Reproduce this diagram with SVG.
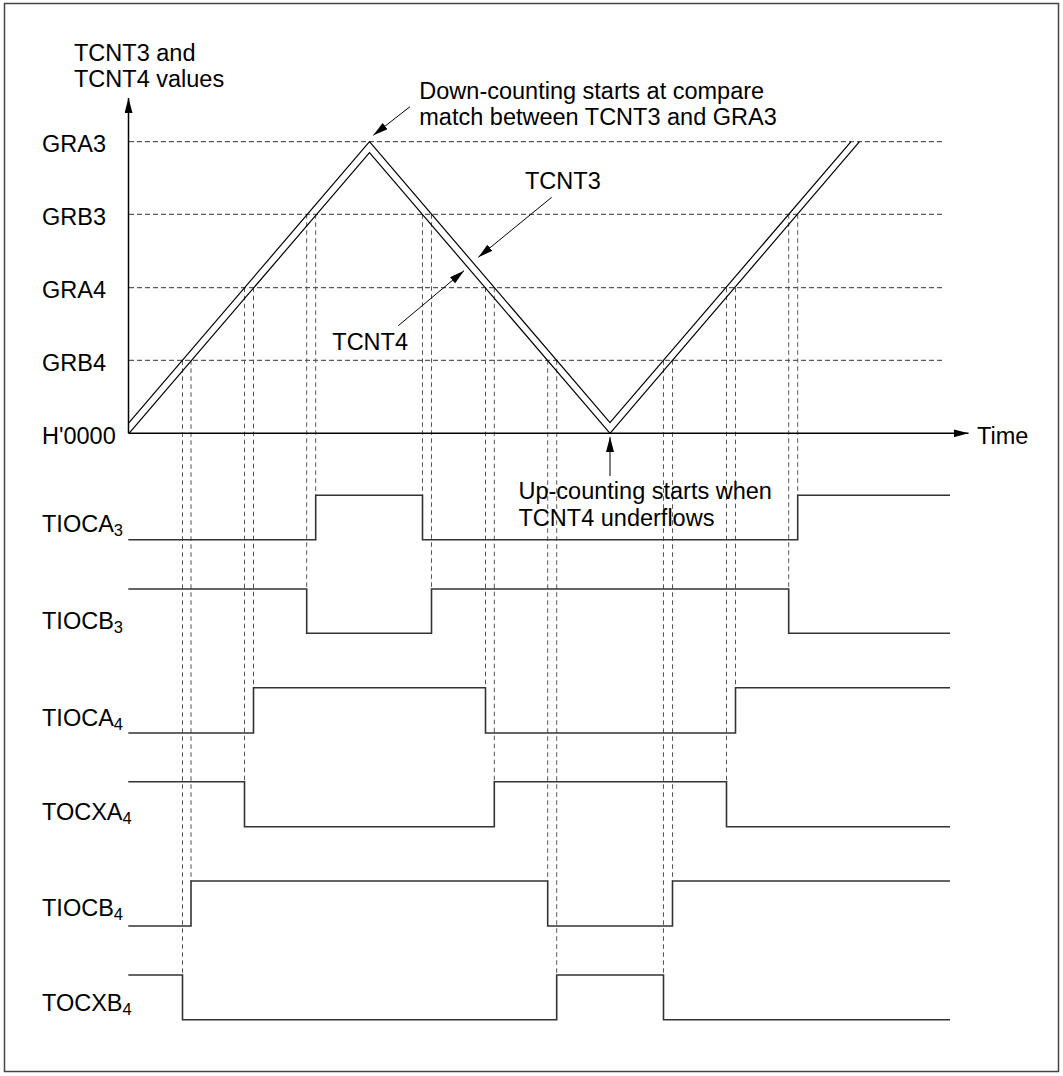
<svg xmlns="http://www.w3.org/2000/svg" width="1063" height="1076" viewBox="0 0 1063 1076">
<style>
text{font-family:"Liberation Sans",Arial,Helvetica,sans-serif;font-size:23.5px;fill:#000}
.sub{font-size:16.5px}
.grid{stroke:#333;stroke-width:1;stroke-dasharray:5,3;fill:none}
.vd{stroke:#555;stroke-width:1;stroke-dasharray:4.5,3.5;fill:none}
.axis{stroke:#000;stroke-width:1.5;fill:none}
.cnt{stroke:#000;stroke-width:1.2;fill:none;stroke-linejoin:miter}
.wave{stroke:#333;stroke-width:1.6;fill:none}
.arr{stroke:#000;stroke-width:1;fill:none}
</style>
<defs>
<marker id="ah" viewBox="0 0 15 8" refX="15" refY="4" markerWidth="15" markerHeight="8" orient="auto" markerUnits="userSpaceOnUse">
<path d="M0,0 L15,4 L0,8 z" fill="#000"/>
</marker>
</defs>
<rect x="4.5" y="3.5" width="1054" height="1068" fill="#fff" stroke="#444" stroke-width="1.5"/>

<g id="grid">
<line class="grid" x1="129" y1="141.7" x2="945" y2="141.7"/>
<line class="grid" x1="129" y1="214.3" x2="945" y2="214.3"/>
<line class="grid" x1="129" y1="287.7" x2="945" y2="287.7"/>
<line class="grid" x1="129" y1="360.3" x2="945" y2="360.3"/>
</g>

<g id="verticals">
<line class="vd" x1="182.5" y1="360.3" x2="182.5" y2="975"/>
<line class="vd" x1="191" y1="360.3" x2="191" y2="881"/>
<line class="vd" x1="244.5" y1="287.7" x2="244.5" y2="781.7"/>
<line class="vd" x1="253.5" y1="287.7" x2="253.5" y2="687.7"/>
<line class="vd" x1="306.7" y1="214.3" x2="306.7" y2="589"/>
<line class="vd" x1="315.7" y1="214.3" x2="315.7" y2="495.3"/>
<line class="vd" x1="422.5" y1="214.3" x2="422.5" y2="495.3"/>
<line class="vd" x1="431.5" y1="214.3" x2="431.5" y2="589"/>
<line class="vd" x1="485.5" y1="287.7" x2="485.5" y2="687.7"/>
<line class="vd" x1="494.3" y1="287.7" x2="494.3" y2="781.7"/>
<line class="vd" x1="547.7" y1="360.3" x2="547.7" y2="881"/>
<line class="vd" x1="556.7" y1="360.3" x2="556.7" y2="975"/>
<line class="vd" x1="663.5" y1="360.3" x2="663.5" y2="975"/>
<line class="vd" x1="672.5" y1="360.3" x2="672.5" y2="881"/>
<line class="vd" x1="726.5" y1="287.7" x2="726.5" y2="781.7"/>
<line class="vd" x1="735.5" y1="287.7" x2="735.5" y2="687.7"/>
<line class="vd" x1="788.7" y1="214.3" x2="788.7" y2="589"/>
<line class="vd" x1="797.7" y1="214.3" x2="797.7" y2="495.3"/>
</g>

<g id="axes">
<line class="axis" x1="128.5" y1="433.3" x2="128.5" y2="98" marker-end="url(#ah)"/>
<line class="axis" x1="128.5" y1="433.3" x2="968.5" y2="433.3" marker-end="url(#ah)"/>
<text x="74" y="61">TCNT3 and</text>
<text x="74" y="87">TCNT4 values</text>
<text x="42" y="152">GRA3</text>
<text x="42" y="225">GRB3</text>
<text x="42" y="298.3">GRA4</text>
<text x="42" y="371">GRB4</text>
<text x="42" y="444">H'0000</text>
<text x="977" y="443.5">Time</text>
</g>

<g id="tcnt3">
<polyline class="cnt" points="129,422.7 369.5,141.7 610,422.7 851,141.7"/>
</g>
<g id="tcnt4">
<polyline class="cnt" points="129,433.3 369.5,152.7 610,433.3 859.5,141.7"/>
</g>

<g id="annotations">
<text x="419.3" y="99.3">Down-counting starts at compare</text>
<text x="419.3" y="125.3">match between TCNT3 and GRA3</text>
<text x="525" y="189.3">TCNT3</text>
<text x="332.3" y="350">TCNT4</text>
<text x="518.5" y="499.3">Up-counting starts when</text>
<text x="518.5" y="526.3">TCNT4 underflows</text>
</g>

<g id="connectors">
<line class="arr" x1="410" y1="106.7" x2="373.3" y2="135.3" marker-end="url(#ah)"/>
<line class="arr" x1="551.7" y1="197.3" x2="478.3" y2="257.3" marker-end="url(#ah)"/>
<line class="arr" x1="398.3" y1="325.7" x2="464" y2="270.7" marker-end="url(#ah)"/>
<line class="arr" x1="610" y1="476" x2="610" y2="437" marker-end="url(#ah)"/>
</g>

<g id="tioca3">
<text x="42" y="531.7">TIOCA<tspan class="sub" dy="4">3</tspan></text>
<path class="wave" d="M128.3,539.7 H315.7 V495.3 H422.5 V539.7 H797.7 V495.3 H950"/>
</g>
<g id="tiocb3">
<text x="42" y="629.3">TIOCB<tspan class="sub" dy="4">3</tspan></text>
<path class="wave" d="M128.3,589 H306.7 V633.3 H431.5 V589 H788.7 V633.3 H950"/>
</g>
<g id="tioca4">
<text x="42" y="725.7">TIOCA<tspan class="sub" dy="4">4</tspan></text>
<path class="wave" d="M128.3,733 H253.5 V687.7 H485.5 V733 H735.5 V687.7 H950"/>
</g>
<g id="tocxa4">
<text x="42" y="820">TOCXA<tspan class="sub" dy="4">4</tspan></text>
<path class="wave" d="M128.3,781.7 H244.5 V826.7 H494.3 V781.7 H726.5 V826.7 H950"/>
</g>
<g id="tiocb4">
<text x="42" y="916">TIOCB<tspan class="sub" dy="4">4</tspan></text>
<path class="wave" d="M128.3,926 H191 V881 H547.7 V926 H672.5 V881 H950"/>
</g>
<g id="tocxb4">
<text x="42" y="1010.7">TOCXB<tspan class="sub" dy="4">4</tspan></text>
<path class="wave" d="M128.3,975 H182.5 V1019.7 H556.7 V975 H663.5 V1019.7 H950"/>
</g>
</svg>
